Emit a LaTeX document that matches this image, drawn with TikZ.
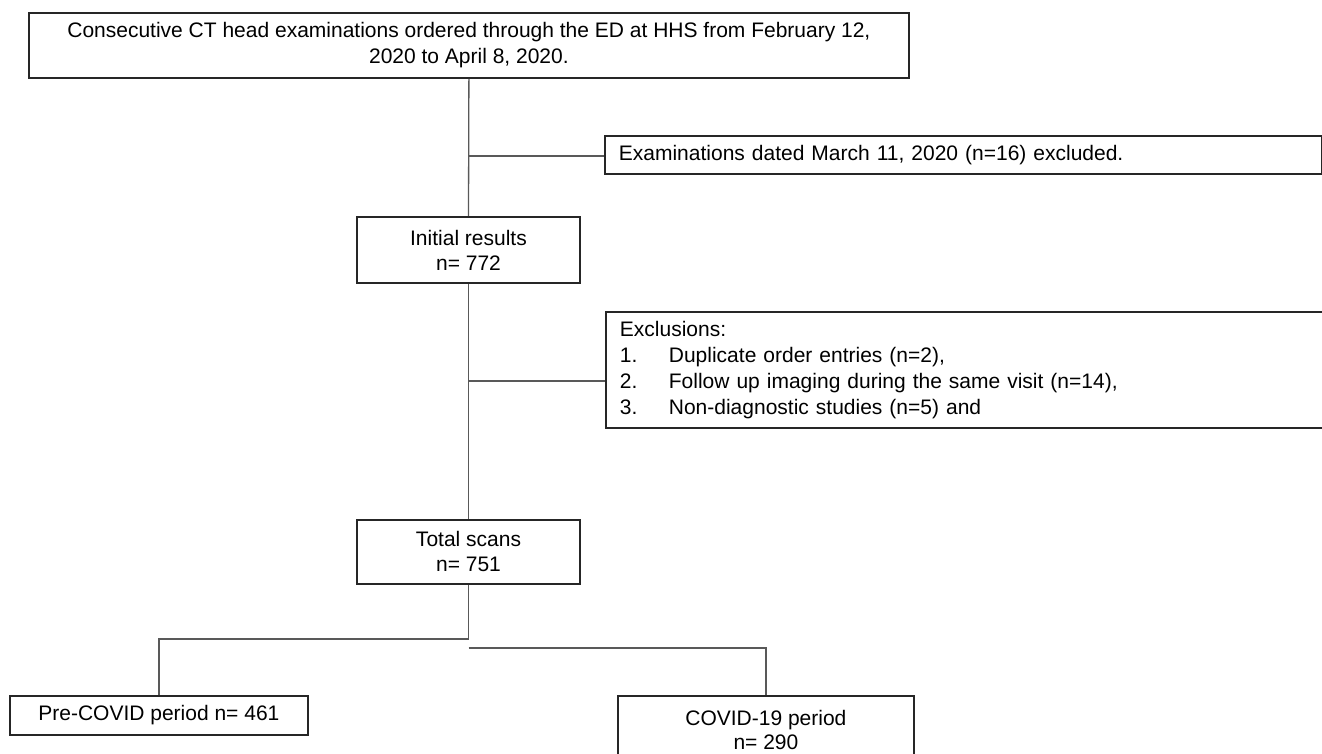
\documentclass[tikz,border=0pt]{standalone}
\usepackage{fontspec}
\setmainfont{Liberation Sans}
\begin{document}
\begin{tikzpicture}[x=1pt,y=-1pt,
  box/.style={draw=black!85,line width=1.8pt,inner sep=0pt,align=center,
    font=\fontsize{21}{25}\selectfont},
  lbox/.style={draw=black!85,line width=1.8pt,inner ysep=0pt,inner xsep=14pt,
    align=left,text width=689pt,font=\fontsize{21}{26}\selectfont},
  conn/.style={draw=black!65,line width=1.3pt}]
\useasboundingbox (0,0) rectangle (1322,754);
\fill[white] (0,0) rectangle (1322,754);

\node[box,anchor=north west,minimum width=880pt,minimum height=65pt,
  font=\fontsize{21}{26}\selectfont] (top) at (28,12)
  {Consecutive CT head examinations ordered through the ED at HHS from February 12,\\2020 to April 8, 2020.};

\node[lbox,anchor=north west,minimum height=38pt] (ex1) at (604,135)
  {Examinations dated March 11, 2020 (n=16) excluded.};

\node[box,anchor=north,minimum width=223pt,minimum height=66pt] (init) at (468.5,216)
  {Initial results\\n= 772};

\node[lbox,anchor=north west,minimum height=116pt] (ex2) at (605,311)
  {Exclusions:\\
   \makebox[49pt][l]{1.}Duplicate order entries (n=2),\\
   \makebox[49pt][l]{2.}Follow up imaging during the same visit (n=14),\\
   \makebox[49pt][l]{3.}Non-diagnostic studies (n=5) and};

\node[box,anchor=north,minimum width=223pt,minimum height=64pt] (total) at (468.5,519)
  {Total scans\\n= 751};

\node[box,anchor=north west,minimum width=298pt,minimum height=39pt] (pre) at (9,695)
  {Pre-COVID period n= 461};

\node[box,anchor=north west,minimum width=296pt,minimum height=68pt,
  font=\fontsize{21}{24}\selectfont] (covid) at (617,695)
  {COVID-19 period\\n= 290};

\coordinate (b1) at (468.5,156);
\coordinate (b2) at (468.5,381);
\coordinate (s1) at (468.5,639);
\coordinate (s2) at (468.5,648);

\draw[conn] (top.south) -- (init.north);
\draw[conn] (b1) -- (b1 -| ex1.west);
\draw[conn] (init.south) -- (total.north);
\draw[conn] (b2) -- (b2 -| ex2.west);
\draw[conn] (total.south) -- (s1) -| (pre.north);
\draw[conn] (s2) -| (covid.north);
\end{tikzpicture}
\end{document}
